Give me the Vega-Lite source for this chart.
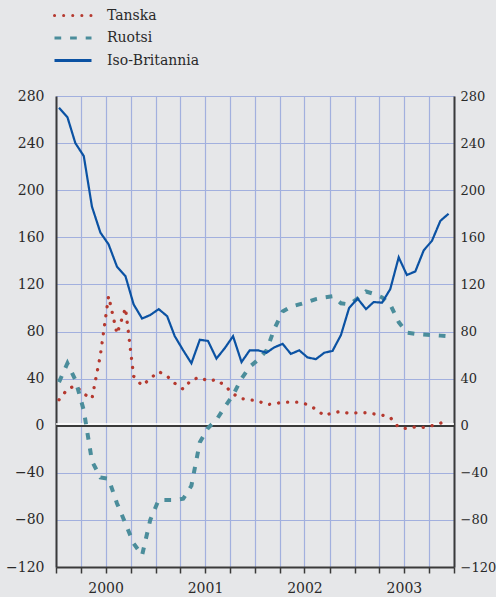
{
  "$schema": "https://vega.github.io/schema/vega-lite/v6.json",
  "width": 398,
  "height": 471,
  "autosize": {"type": "none"},
  "padding": {"left": 56, "top": 96, "right": 42, "bottom": 30},
  "background": "#e6e7e9",
  "config": {
    "view": {"stroke": null},
    "font": "DejaVu Serif",
    "axis": {
      "labelFont": "DejaVu Serif",
      "labelFontSize": 14,
      "labelColor": "#2a2a2a",
      "title": null,
      "gridColor": "#a2b0de",
      "gridWidth": 1.2,
      "domainColor": "#3a3a3a",
      "domainWidth": 2,
      "tickColor": "#3a3a3a"
    }
  },
  "data": {
    "values": [
      {"date": "2000-01-12", "Tanska": 22, "Ruotsi": 37, "Iso-Britannia": 270},
      {"date": "2000-02-12", "Tanska": 31, "Ruotsi": 53, "Iso-Britannia": 262},
      {"date": "2000-03-12", "Tanska": 34, "Ruotsi": 39, "Iso-Britannia": 240},
      {"date": "2000-04-12", "Tanska": 27, "Ruotsi": 13, "Iso-Britannia": 229},
      {"date": "2000-05-12", "Tanska": 23, "Ruotsi": -30, "Iso-Britannia": 186},
      {"date": "2000-06-12", "Tanska": 60, "Ruotsi": -44, "Iso-Britannia": 164},
      {"date": "2000-07-12", "Tanska": 110, "Ruotsi": -45, "Iso-Britannia": 154},
      {"date": "2000-08-12", "Tanska": 78, "Ruotsi": -66, "Iso-Britannia": 135},
      {"date": "2000-09-12", "Tanska": 100, "Ruotsi": -83, "Iso-Britannia": 127},
      {"date": "2000-10-12", "Tanska": 42, "Ruotsi": -100, "Iso-Britannia": 103},
      {"date": "2000-11-12", "Tanska": 34, "Ruotsi": -110, "Iso-Britannia": 91},
      {"date": "2000-12-12", "Tanska": 40, "Ruotsi": -80, "Iso-Britannia": 94},
      {"date": "2001-01-12", "Tanska": 46, "Ruotsi": -63, "Iso-Britannia": 99},
      {"date": "2001-02-12", "Tanska": 42, "Ruotsi": -63, "Iso-Britannia": 93},
      {"date": "2001-03-12", "Tanska": 36, "Ruotsi": -63, "Iso-Britannia": 76},
      {"date": "2001-04-12", "Tanska": 31, "Ruotsi": -62, "Iso-Britannia": 64},
      {"date": "2001-05-12", "Tanska": 39, "Ruotsi": -51, "Iso-Britannia": 53},
      {"date": "2001-06-12", "Tanska": 41, "Ruotsi": -14, "Iso-Britannia": 73},
      {"date": "2001-07-12", "Tanska": 38, "Ruotsi": -2, "Iso-Britannia": 72},
      {"date": "2001-08-12", "Tanska": 39, "Ruotsi": 5, "Iso-Britannia": 57},
      {"date": "2001-09-12", "Tanska": 34, "Ruotsi": 16, "Iso-Britannia": 66},
      {"date": "2001-10-12", "Tanska": 27, "Ruotsi": 26, "Iso-Britannia": 76},
      {"date": "2001-11-12", "Tanska": 23, "Ruotsi": 40, "Iso-Britannia": 54},
      {"date": "2001-12-12", "Tanska": 22, "Ruotsi": 50, "Iso-Britannia": 64},
      {"date": "2002-01-12", "Tanska": 21, "Ruotsi": 56, "Iso-Britannia": 64},
      {"date": "2002-02-12", "Tanska": 18, "Ruotsi": 64, "Iso-Britannia": 62},
      {"date": "2002-03-12", "Tanska": 18.5, "Ruotsi": 82, "Iso-Britannia": 66.5},
      {"date": "2002-04-12", "Tanska": 20, "Ruotsi": 97, "Iso-Britannia": 69.5},
      {"date": "2002-05-12", "Tanska": 20, "Ruotsi": 101, "Iso-Britannia": 61},
      {"date": "2002-06-12", "Tanska": 20, "Ruotsi": 103, "Iso-Britannia": 64},
      {"date": "2002-07-12", "Tanska": 18, "Ruotsi": 105, "Iso-Britannia": 58},
      {"date": "2002-08-12", "Tanska": 14, "Ruotsi": 107.5, "Iso-Britannia": 56.5},
      {"date": "2002-09-12", "Tanska": 8.5, "Ruotsi": 109, "Iso-Britannia": 62},
      {"date": "2002-10-12", "Tanska": 11, "Ruotsi": 110, "Iso-Britannia": 63.5},
      {"date": "2002-11-12", "Tanska": 12, "Ruotsi": 104, "Iso-Britannia": 77},
      {"date": "2002-12-12", "Tanska": 10.5, "Ruotsi": 103, "Iso-Britannia": 100},
      {"date": "2003-01-12", "Tanska": 11, "Ruotsi": 108, "Iso-Britannia": 108},
      {"date": "2003-02-12", "Tanska": 11, "Ruotsi": 114, "Iso-Britannia": 99},
      {"date": "2003-03-12", "Tanska": 10, "Ruotsi": 112, "Iso-Britannia": 105},
      {"date": "2003-04-12", "Tanska": 9, "Ruotsi": 109, "Iso-Britannia": 104.5},
      {"date": "2003-05-12", "Tanska": 7, "Ruotsi": 103, "Iso-Britannia": 116},
      {"date": "2003-06-12", "Tanska": -1.5, "Ruotsi": 88, "Iso-Britannia": 143},
      {"date": "2003-07-12", "Tanska": -2.5, "Ruotsi": 79, "Iso-Britannia": 128},
      {"date": "2003-08-12", "Tanska": -1, "Ruotsi": 78, "Iso-Britannia": 131},
      {"date": "2003-09-12", "Tanska": -1.5, "Ruotsi": 77.5, "Iso-Britannia": 149},
      {"date": "2003-10-12", "Tanska": 0, "Ruotsi": 77, "Iso-Britannia": 157},
      {"date": "2003-11-12", "Tanska": 2, "Ruotsi": 76.5, "Iso-Britannia": 174},
      {"date": "2003-12-12", "Tanska": 5.5, "Ruotsi": 76, "Iso-Britannia": 180}
    ]
  },
  "layer": [
    {
      "data": {"values": [{"level": 0}]},
      "encoding": {
        "y": {
          "field": "level",
          "type": "quantitative",
          "scale": {"domain": [-120, 280], "nice": false, "zero": false},
          "axis": {
            "orient": "left",
            "values": [-120, -80, -40, 0, 40, 80, 120, 160, 200, 240, 280],
            "grid": true,
            "ticks": false,
            "labelPadding": 12,
            "labelFlush": false,
            "labelOverlap": false
          }
        }
      },
      "layer": [
        {"mark": {"type": "rule", "color": "#ffffff", "strokeWidth": 1.4, "yOffset": -1.7}},
        {"mark": {"type": "rule", "color": "#3a3a3a", "strokeWidth": 2, "yOffset": 0.3}}
      ]
    },
    {
      "transform": [{"fold": ["Tanska", "Ruotsi", "Iso-Britannia"], "as": ["series", "value"]}],
      "encoding": {
        "x": {
          "field": "date",
          "type": "temporal",
          "scale": {
            "type": "utc",
            "domain": [
              {"year": 2000, "month": 1, "date": 1, "utc": true},
              {"year": 2004, "month": 1, "date": 1, "utc": true}
            ]
          },
          "axis": {
            "values": [
              {"year": 2000, "month": 1, "date": 1, "utc": true},
              {"year": 2000, "month": 4, "date": 1, "utc": true},
              {"year": 2000, "month": 7, "date": 1, "utc": true},
              {"year": 2000, "month": 10, "date": 1, "utc": true},
              {"year": 2001, "month": 1, "date": 1, "utc": true},
              {"year": 2001, "month": 4, "date": 1, "utc": true},
              {"year": 2001, "month": 7, "date": 1, "utc": true},
              {"year": 2001, "month": 10, "date": 1, "utc": true},
              {"year": 2002, "month": 1, "date": 1, "utc": true},
              {"year": 2002, "month": 4, "date": 1, "utc": true},
              {"year": 2002, "month": 7, "date": 1, "utc": true},
              {"year": 2002, "month": 10, "date": 1, "utc": true},
              {"year": 2003, "month": 1, "date": 1, "utc": true},
              {"year": 2003, "month": 4, "date": 1, "utc": true},
              {"year": 2003, "month": 7, "date": 1, "utc": true},
              {"year": 2003, "month": 10, "date": 1, "utc": true},
              {"year": 2004, "month": 1, "date": 1, "utc": true}
            ],
            "grid": true,
            "tickSize": 6,
            "tickWidth": 1.5,
            "labelPadding": 8,
            "labelExpr": "utcmonth(datum.value) === 6 ? '' + utcyear(datum.value) : ''",
            "labelFlush": false,
            "labelOverlap": false,
            "labelBound": false
          }
        },
        "y": {
          "field": "value",
          "type": "quantitative",
          "axis": {
            "orient": "right",
            "values": [-120, -80, -40, 0, 40, 80, 120, 160, 200, 240, 280],
            "grid": false,
            "ticks": false,
            "labelFontSize": 13,
            "labelPadding": 6,
            "labelFlush": false,
            "labelOverlap": false
          }
        },
        "color": {
          "field": "series",
          "type": "nominal",
          "scale": {"domain": ["Tanska", "Ruotsi", "Iso-Britannia"], "range": ["#b5392f", "#4b8d9b", "#0b52a3"]},
          "legend": {
            "orient": "none",
            "legendX": -3,
            "legendY": -89,
            "title": null,
            "direction": "vertical",
            "symbolType": "stroke",
            "symbolSize": 1369,
            "symbolStrokeWidth": 3,
            "clipHeight": 17,
            "rowPadding": 5.5,
            "labelFont": "DejaVu Serif",
            "labelFontSize": 14,
            "labelColor": "#2a2a2a",
            "labelOffset": 14,
            "padding": 0,
            "encode": {
              "symbols": {
                "update": {
                  "strokeCap": {"signal": "datum.value === 'Tanska' ? 'round' : 'butt'"}
                }
              }
            }
          }
        },
        "strokeDash": {
          "field": "series",
          "type": "nominal",
          "scale": {"domain": ["Tanska", "Ruotsi", "Iso-Britannia"], "range": [[0.1, 9], [6.7, 8.9], [1, 0]]}
        }
      },
      "layer": [
        {"transform": [{"filter": "datum.series === 'Tanska'"}], "mark": {"type": "line", "strokeCap": "round", "strokeWidth": 3.3}},
        {"transform": [{"filter": "datum.series === 'Ruotsi'"}], "mark": {"type": "line", "strokeCap": "butt", "strokeWidth": 4}},
        {"transform": [{"filter": "datum.series === 'Iso-Britannia'"}], "mark": {"type": "line", "strokeWidth": 2.2}}
      ]
    }
  ],
  "resolve": {"axis": {"y": "independent"}}
}
